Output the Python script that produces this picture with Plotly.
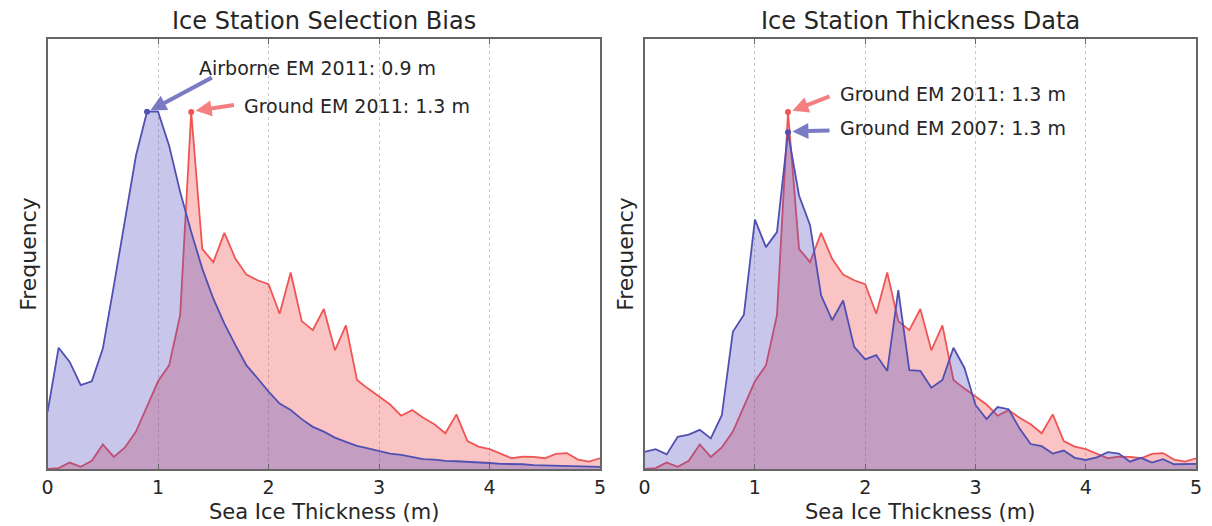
import plotly.graph_objects as go

# ---------------- data ----------------
thickness = [round(0.1 * i, 1) for i in range(51)]

airborne_2011 = [0.133, 0.282, 0.249, 0.195, 0.204, 0.280, 0.427, 0.582, 0.729, 0.831,
                 0.831, 0.752, 0.644, 0.551, 0.466, 0.396, 0.338, 0.288, 0.241, 0.211,
                 0.180, 0.152, 0.137, 0.116, 0.098, 0.087, 0.073, 0.063, 0.054, 0.048,
                 0.042, 0.036, 0.033, 0.028, 0.023, 0.022, 0.019, 0.018, 0.017, 0.015,
                 0.014, 0.012, 0.012, 0.011, 0.009, 0.0085, 0.008, 0.007, 0.006, 0.005,
                 0.005]

ground_2011 = [0.000, 0.002, 0.015, 0.005, 0.019, 0.057, 0.028, 0.050, 0.087, 0.145,
               0.204, 0.241, 0.358, 0.830, 0.512, 0.481, 0.549, 0.489, 0.452, 0.439,
               0.430, 0.361, 0.457, 0.344, 0.323, 0.372, 0.276, 0.334, 0.207, 0.187,
               0.168, 0.150, 0.124, 0.137, 0.119, 0.104, 0.083, 0.127, 0.065, 0.052,
               0.046, 0.036, 0.025, 0.029, 0.028, 0.025, 0.035, 0.037, 0.022, 0.017,
               0.025]

ground_2007 = [0.040, 0.046, 0.034, 0.075, 0.080, 0.091, 0.071, 0.125, 0.319, 0.359,
               0.580, 0.516, 0.551, 0.783, 0.636, 0.567, 0.404, 0.346, 0.392, 0.284,
               0.255, 0.265, 0.228, 0.416, 0.230, 0.228, 0.189, 0.207, 0.282, 0.235,
               0.149, 0.116, 0.144, 0.139, 0.094, 0.058, 0.053, 0.036, 0.043, 0.026,
               0.021, 0.027, 0.039, 0.036, 0.017, 0.026, 0.015, 0.023, 0.011, 0.011,
               0.012]

x_ticks = [0, 1, 2, 3, 4, 5]
titles = ["Ice Station Selection Bias", "Ice Station Thickness Data"]
x_title = "Sea Ice Thickness (m)"
y_title = "Frequency"

# ---------------- styles ----------------
W, H = 1212, 526
BLUE = "rgb(80,80,178)"
BLUE_FILL = "rgba(72,70,190,0.30)"
RED = "rgb(240,85,85)"
RED_FILL = "rgba(240,70,70,0.32)"
FONT = "DejaVu Sans"
TXT = "#262626"


def peak(xs, ys):
    i = max(range(len(ys)), key=lambda k: ys[k])
    return xs[i], ys[i]


fig = go.Figure()


def add_series(ys, line, fill, xa, ya):
    fig.add_trace(go.Scatter(x=thickness, y=ys, mode="lines", fill="tozeroy",
                             fillcolor=fill, line=dict(color=line, width=1.8),
                             xaxis=xa, yaxis=ya, showlegend=False, hoverinfo="skip"))


def add_peak(ys, line, xa, ya):
    px, py = peak(thickness, ys)
    fig.add_trace(go.Scatter(x=[px], y=[py], mode="markers",
                             marker=dict(color=line, size=6),
                             xaxis=xa, yaxis=ya, showlegend=False, hoverinfo="skip"))


# left panel
add_series(ground_2011, RED, RED_FILL, "x", "y")
add_series(airborne_2011, BLUE, BLUE_FILL, "x", "y")
add_peak(ground_2011, RED, "x", "y")
add_peak(airborne_2011, BLUE, "x", "y")
# right panel
add_series(ground_2011, RED, RED_FILL, "x2", "y2")
add_series(ground_2007, BLUE, BLUE_FILL, "x2", "y2")
add_peak(ground_2011, RED, "x2", "y2")
add_peak(ground_2007, BLUE, "x2", "y2")

# domains (paper coords)
top_px, bot_px = 39, 469
ydom = [1 - bot_px / H, 1 - top_px / H]
xdom1 = [42 / W, 600 / W]
xdom2 = [645 / W, 1202 / W]

axis_common = dict(range=[0, 5], tickvals=x_ticks, ticks="inside", ticklen=5,
                   tickcolor="#666", showline=True, linecolor="#666", linewidth=1.5,
                   mirror="ticks", showgrid=True, gridcolor="#c8c8c8", griddash="dot",
                   gridwidth=1, zeroline=False,
                   tickfont=dict(family=FONT, size=19, color=TXT))
yaxis_common = dict(range=[0, 1], showticklabels=False, ticks="", showgrid=False,
                    showline=True, linecolor="#666", linewidth=1.5, mirror=True,
                    zeroline=False)

fig.update_layout(
    width=W, height=H, margin=dict(l=0, r=0, t=0, b=0),
    paper_bgcolor="white", plot_bgcolor="white",
    xaxis=dict(domain=xdom1, anchor="y", **axis_common),
    yaxis=dict(domain=ydom, anchor="x", **yaxis_common),
    xaxis2=dict(domain=xdom2, anchor="y2", **axis_common),
    yaxis2=dict(domain=ydom, anchor="x2", **yaxis_common),
)

ann = []
# titles and axis labels
for dom, t in zip([xdom1, xdom2], titles):
    cx = (dom[0] + dom[1]) / 2
    ann.append(dict(text=t, x=cx, y=1 - 21 / H, xref="paper", yref="paper",
                    showarrow=False, font=dict(family=FONT, size=24, color=TXT),
                    xanchor="center", yanchor="middle"))
    ann.append(dict(text=x_title, x=cx, y=1 - 512 / H, xref="paper", yref="paper",
                    showarrow=False, font=dict(family=FONT, size=21, color=TXT),
                    xanchor="center", yanchor="middle"))
for px_ in [22, 625]:
    ann.append(dict(text=y_title, x=px_ / W, y=(ydom[0] + ydom[1]) / 2,
                    xref="paper", yref="paper", textangle=-90, showarrow=False,
                    font=dict(family=FONT, size=22, color=TXT),
                    xanchor="center", yanchor="middle"))


def arrow_label(xr, yr, head, tail, text_pos, label, color):
    ann.append(dict(x=head[0], y=head[1], ax=tail[0], ay=tail[1], xref=xr, yref=yr,
                    axref=xr, ayref=yr, text="", showarrow=True, arrowhead=2,
                    arrowsize=0.8, arrowwidth=4, arrowcolor=color))
    ann.append(dict(x=text_pos[0], y=text_pos[1], xref=xr, yref=yr, text=label,
                    showarrow=False, xanchor="left", yanchor="middle",
                    font=dict(family=FONT, size=19, color=TXT)))


BL_ARROW = "rgba(80,80,178,0.75)"
RD_ARROW = "rgba(240,85,85,0.75)"
pa = peak(thickness, airborne_2011)
pg = peak(thickness, ground_2011)
p7 = peak(thickness, ground_2007)
arrow_label("x", "y", (pa[0] + 0.03, pa[1] + 0.003), (1.5, 0.912), (1.35, 0.933),
            "Airborne EM 2011: 0.9 m", BL_ARROW)
arrow_label("x", "y", (pg[0] + 0.04, pg[1] + 0.003), (1.70, 0.847), (1.76, 0.845),
            "Ground EM 2011: 1.3 m", RD_ARROW)
arrow_label("x2", "y2", (pg[0] + 0.04, pg[1] + 0.003), (1.69, 0.868), (1.75, 0.873),
            "Ground EM 2011: 1.3 m", RD_ARROW)
arrow_label("x2", "y2", (p7[0] + 0.04, p7[1] + 0.002), (1.69, 0.787), (1.75, 0.792),
            "Ground EM 2007: 1.3 m", BL_ARROW)

fig.update_layout(annotations=ann)
fig.write_html("out.html")
